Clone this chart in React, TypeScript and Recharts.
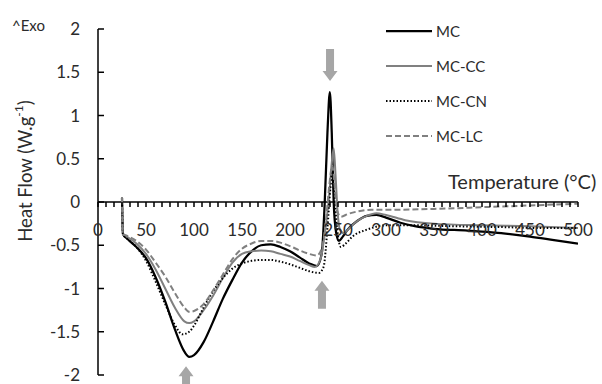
import React from 'react'
import {
  LineChart,
  Line,
  XAxis,
  YAxis,
  ReferenceLine,
  ReferenceDot
} from 'recharts'

// temperature (°C) / heat flow (W/g)
const TEMP_MC = [25, 26, 30, 40, 50, 60, 70, 80, 90, 95, 100, 110, 120, 130, 140, 150, 160, 170, 180, 190, 200, 210, 220, 228, 233, 236, 239, 241.5, 243.5, 245.5, 248, 251, 255, 260, 270, 280, 290, 300, 315, 330, 350, 385, 420, 450, 475, 500]
const HF_MC = [0.05, -0.37, -0.42, -0.52, -0.65, -0.87, -1.15, -1.47, -1.73, -1.79, -1.77, -1.62, -1.38, -1.12, -0.9, -0.7, -0.57, -0.5, -0.49, -0.52, -0.57, -0.64, -0.71, -0.74, -0.6, -0.05, 0.8, 1.27, 0.8, 0.0, -0.35, -0.45, -0.4, -0.32, -0.22, -0.16, -0.15, -0.18, -0.24, -0.28, -0.31, -0.33, -0.36, -0.4, -0.44, -0.48]

const TEMP_CC = [25, 26, 30, 40, 50, 60, 70, 80, 90, 95, 100, 110, 120, 130, 140, 150, 160, 170, 180, 190, 200, 210, 220, 226, 232, 237, 241, 243.5, 245.5, 247.5, 249.5, 252, 256, 262, 270, 280, 290, 300, 320, 350, 400, 450, 500]
const HF_CC = [0.05, -0.37, -0.4, -0.48, -0.6, -0.78, -1.0, -1.22, -1.38, -1.4, -1.38, -1.25, -1.08, -0.88, -0.7, -0.6, -0.57, -0.56, -0.57, -0.6, -0.63, -0.68, -0.73, -0.75, -0.65, -0.3, 0.1, 0.45, 0.62, 0.3, -0.1, -0.32, -0.36, -0.3, -0.22, -0.16, -0.13, -0.15, -0.21, -0.25, -0.27, -0.28, -0.3]

const TEMP_CN = [25, 26, 30, 40, 50, 60, 70, 80, 88, 95, 100, 110, 120, 130, 140, 150, 160, 170, 180, 190, 200, 210, 220, 230, 235, 239, 242, 244, 246, 249, 253, 258, 265, 280, 300, 330, 370, 420, 460, 500]
const HF_CN = [0.05, -0.37, -0.42, -0.52, -0.68, -0.92, -1.18, -1.42, -1.53, -1.5, -1.43, -1.22, -1.03, -0.88, -0.77, -0.71, -0.68, -0.67, -0.67, -0.69, -0.72, -0.76, -0.8, -0.82, -0.75, -0.3, 0.15, 0.35, 0.1, -0.3, -0.52, -0.48, -0.4, -0.32, -0.27, -0.27, -0.28, -0.29, -0.3, -0.3]

const TEMP_LC = [25, 26, 30, 40, 50, 60, 70, 80, 90, 95, 100, 110, 120, 130, 140, 150, 160, 170, 180, 190, 200, 210, 220, 228, 234, 238, 241, 244, 246.5, 249, 253, 260, 270, 285, 300, 350, 400, 450, 500]
const HF_LC = [0.05, -0.37, -0.39, -0.45, -0.55, -0.7, -0.86, -1.05, -1.22, -1.27, -1.26, -1.18, -1.02, -0.84, -0.66, -0.54, -0.48, -0.45, -0.45, -0.47, -0.51, -0.56, -0.6, -0.62, -0.5, -0.15, 0.2, 0.42, 0.2, -0.1, -0.17, -0.14, -0.11, -0.09, -0.09, -0.08, -0.06, -0.04, -0.02]

const X_MAJOR = [0, 50, 100, 150, 200, 250, 300, 350, 400, 450, 500]
const Y_TICKS = [-2, -1.5, -1, -0.5, 0, 0.5, 1, 1.5, 2]
const MINOR_PER_MAJOR = 6

// grey arrows pointing at the transitions (tip position in data units)
const ARROWS = [
  { t: 241.7, v: 1.4, dir: 'down', len: 32 },
  { t: 233.3, v: -0.91, dir: 'up', len: 28 },
  { t: 91.7, v: -1.9, dir: 'up', len: 26 }
]

const toData = (temps: number[], vals: number[]) => temps.map((t, i) => ({ t, v: vals[i] }))

const SERIES = [
  { name: 'MC', data: toData(TEMP_MC, HF_MC), color: '#000000', width: 2.25, dash: undefined },
  { name: 'MC-CC', data: toData(TEMP_CC, HF_CC), color: '#808080', width: 2, dash: undefined },
  { name: 'MC-CN', data: toData(TEMP_CN, HF_CN), color: '#000000', width: 2, dash: '1.5 2' },
  { name: 'MC-LC', data: toData(TEMP_LC, HF_LC), color: '#808080', width: 2, dash: '6 3' }
]

const W = 602
const H = 384
const TOP = 29
const BOTTOM = 8
const X_AXIS_H = 1
const LEFT = 98
const RIGHT = 24
const ZERO_Y = TOP + (H - TOP - BOTTOM - X_AXIS_H) / 2
const FONT = "Lato, 'Open Sans', sans-serif"
const TEXT = '#2b2b2b'

const xTicks: number[] = []
X_MAJOR.forEach((m, i) => {
  if (i === X_MAJOR.length - 1) {
    xTicks.push(m)
    return
  }
  const step = (X_MAJOR[i + 1] - m) / MINOR_PER_MAJOR
  for (let k = 0; k < MINOR_PER_MAJOR; k++) xTicks.push(m + k * step)
})

const XTick = ({ x, payload }: any) => {
  const val = payload.value
  const isMajor = X_MAJOR.some(m => Math.abs(m - val) < 0.01)
  return (
    <g>
      <line x1={x} x2={x} y1={ZERO_Y} y2={ZERO_Y + 5} stroke="#000" strokeWidth={1.5} />
      {isMajor && (
        <text x={x} y={ZERO_Y + 34} textAnchor="middle" fontFamily={FONT} fontSize={17} fill={TEXT}>
          {val}
        </text>
      )}
    </g>
  )
}

const YTick = ({ y, payload }: any) => (
  <g>
    <line x1={LEFT} x2={LEFT + 6} y1={y} y2={y} stroke="#000" strokeWidth={1.5} />
    <text x={80} y={y} dy={6} textAnchor="end" fontFamily={FONT} fontSize={17} fill={TEXT}>
      {payload.value}
    </text>
  </g>
)

const YTitle = () => (
  <text
    x={25}
    y={171}
    transform="rotate(-90, 25, 171)"
    textAnchor="middle"
    dominantBaseline="central"
    fontFamily={FONT}
    fontSize={18.5}
    fill={TEXT}
  >
    Heat Flow (W.g<tspan dy={-7} fontSize={12}>-1</tspan><tspan dy={7}>)</tspan>
  </text>
)

const Arrow = ({ cx, cy, dir, len }: any) => {
  const s = dir === 'down' ? -1 : 1
  const head = 10
  const pts = [
    [cx, cy],
    [cx - 7.5, cy + s * head],
    [cx - 4, cy + s * head],
    [cx - 4, cy + s * len],
    [cx + 4, cy + s * len],
    [cx + 4, cy + s * head],
    [cx + 7.5, cy + s * head]
  ]
  return <polygon points={pts.map(p => p.join(',')).join(' ')} fill="#A6A6A6" />
}

export default function App() {
  return (
    <div style={{ position: 'absolute', left: 0, top: 0, width: W, height: H, background: '#fff', fontFamily: FONT }}>
      <LineChart width={W} height={H} margin={{ top: TOP, right: RIGHT, bottom: BOTTOM, left: 0 }}>
        <XAxis
          dataKey="t"
          type="number"
          domain={[0, 500]}
          ticks={xTicks}
          interval={0}
          axisLine={false}
          tickLine={false}
          tick={<XTick />}
          height={X_AXIS_H}
          allowDataOverflow
        />
        <YAxis
          type="number"
          domain={[-2, 2]}
          ticks={Y_TICKS}
          interval={0}
          width={LEFT}
          axisLine={{ stroke: '#000', strokeWidth: 1.5 }}
          tickLine={false}
          tick={<YTick />}
          label={<YTitle />}
        />
        <ReferenceLine y={0} stroke="#000" strokeWidth={1.5} />
        {SERIES.map(s => (
          <Line
            key={s.name}
            data={s.data}
            dataKey="v"
            name={s.name}
            type="monotone"
            stroke={s.color}
            strokeWidth={s.width}
            strokeDasharray={s.dash}
            dot={false}
            activeDot={false}
            isAnimationActive={false}
          />
        ))}
        {ARROWS.map((a, i) => (
          <ReferenceDot
            key={i}
            x={a.t}
            y={a.v}
            r={1}
            ifOverflow="visible"
            shape={(p: any) => <Arrow cx={p.cx} cy={p.cy} dir={a.dir} len={a.len} />}
          />
        ))}
      </LineChart>
      {/* legend */}
      <div style={{ position: 'absolute', left: 386, top: 13, fontSize: 15, color: TEXT }}>
        {SERIES.map(s => (
          <div key={s.name} style={{ display: 'flex', alignItems: 'center', height: 35 }}>
            <svg width={46} height={6} style={{ marginRight: 4 }}>
              <line x1={0} x2={46} y1={3} y2={3} stroke={s.color} strokeWidth={s.width} strokeDasharray={s.dash} />
            </svg>
            <span>{s.name}</span>
          </div>
        ))}
      </div>
      <div style={{ position: 'absolute', left: 12, top: 16, fontSize: 15, color: TEXT }}>^Exo</div>
      <div style={{ position: 'absolute', left: 448, top: 169, fontSize: 20, color: TEXT, whiteSpace: 'nowrap' }}>
        Temperature (°C)
      </div>
    </div>
  )
}
